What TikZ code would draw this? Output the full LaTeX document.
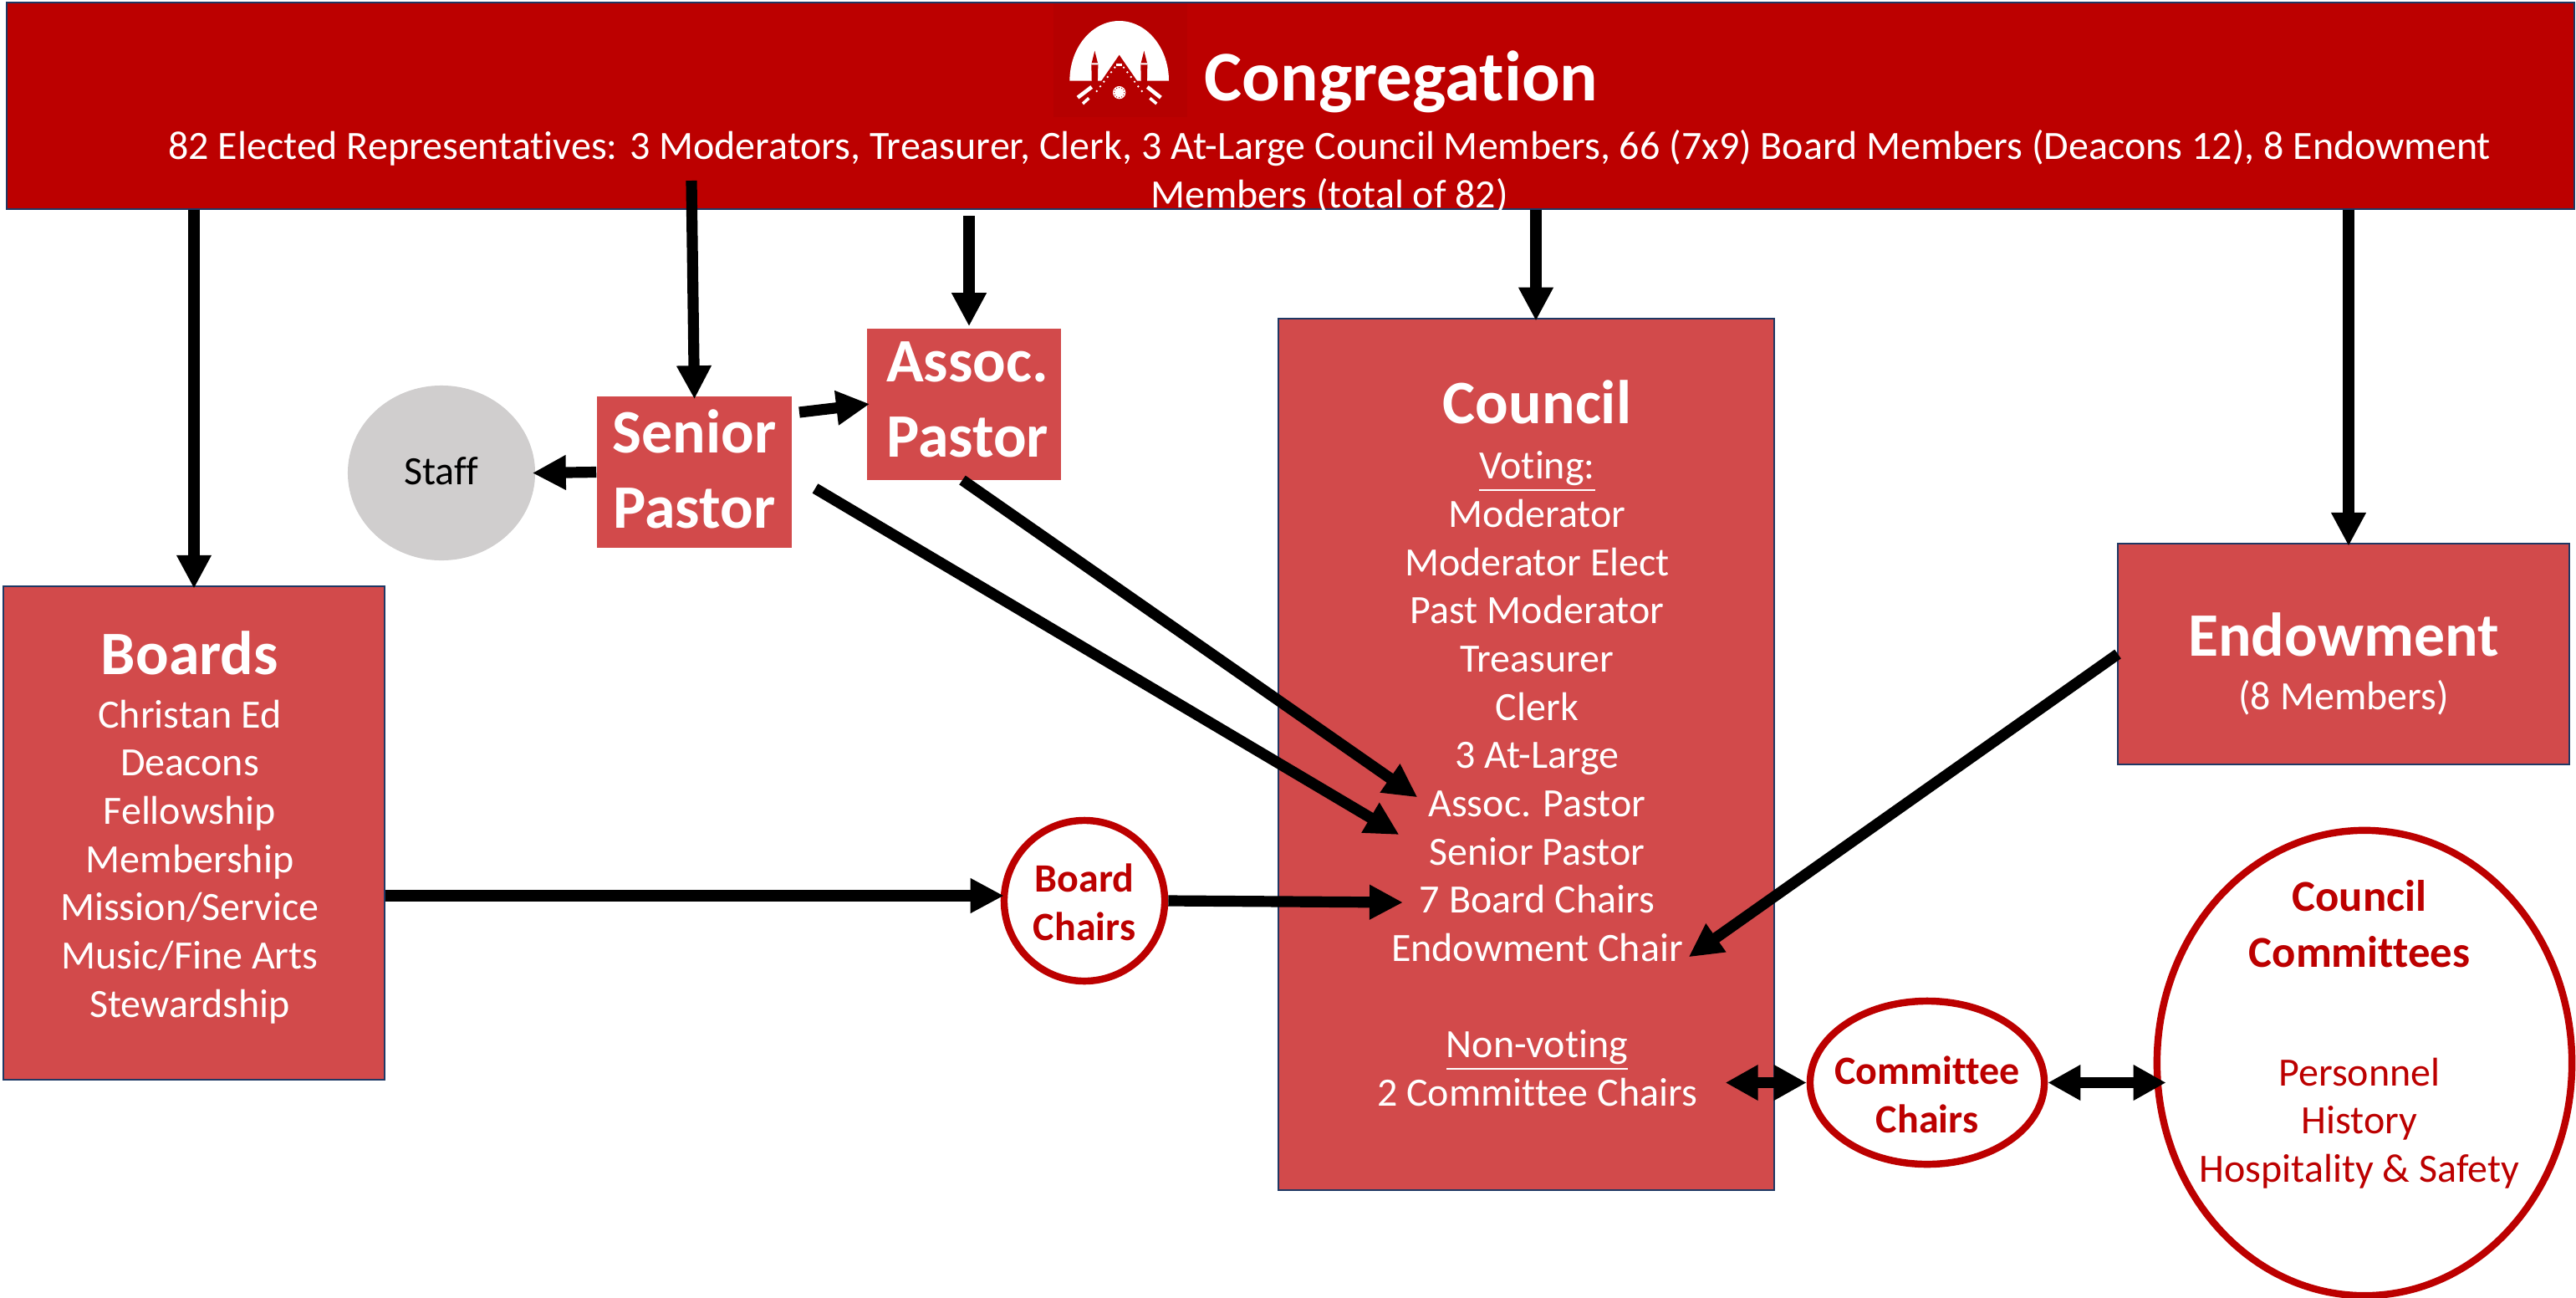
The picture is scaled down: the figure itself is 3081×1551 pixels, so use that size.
\documentclass[tikz,border=0pt]{standalone}
\usepackage{fontspec}
\setmainfont[Ligatures=CommonOff]{Carlito}
\usetikzlibrary{arrows.meta,shapes.geometric}
\definecolor{congred}{HTML}{BC0000}
\definecolor{logored}{HTML}{B50000}
\definecolor{boxred}{HTML}{D24A4B}
\definecolor{edgeblue}{HTML}{1F3864}
\definecolor{staffgrey}{HTML}{D0CECE}
\newcommand{\bodyfont}{\fontsize{13.65}{16.4}\selectfont}
\newcommand{\headfont}{\fontsize{21}{25.6}\selectfont\bfseries}
\tikzstyle{congbox} = [draw=edgeblue, fill=congred, line width=0.6pt, rectangle,
    inner sep=0, minimum width=30.69cm, minimum height=2.47cm]
\tikzstyle{redbox} = [draw=edgeblue, fill=boxred, line width=0.6pt, rectangle, inner sep=0]
\tikzstyle{boxtext} = [inner sep=0, text=white, font=\bodyfont, align=center]
\tikzstyle{pastorbox} = [fill=boxred, rectangle, inner sep=0]
\tikzstyle{pastortext} = [inner sep=0, text=white, font=\headfont, align=center]
\tikzstyle{ringnode} = [draw=congred, fill=white, line width=2.4pt, ellipse, inner sep=0]
\tikzstyle{ringtext} = [inner sep=0, text=congred, align=center]
\tikzstyle{bigarrow} = [line width=3.75pt, shorten >=-0.04cm, -{Triangle[length=4mm,width=3.9mm]}]
\tikzstyle{bothways} = [line width=3.75pt,
    {Triangle[length=3.9mm,width=4mm]}-{Triangle[length=3.9mm,width=4mm]}]
\begin{document}
\begin{tikzpicture}[x=0.01cm,y=-0.01cm]
    \useasboundingbox (0,0) rectangle (3081,1551);
    \node [congbox] (congregation) at (1543.5,126.5) {};
    \fill [logored] (1260,4) rectangle (1420,140);
    \begin{scope}[shift={(1240,0)},x=0.01cm/3,y=-0.01cm/3]
        \fill [white] (118,290) arc[start angle=180,end angle=360,x radius=178,y radius=215] -- cycle;
        \fill [logored] (296,197) -- (375,312) -- (375,340) -- (217,340) -- (217,312) -- cycle;
        \fill [logored] (208,182) -- (218,222) -- (220,232) -- (218,325) -- (198,325) -- (196,232) -- (198,222) -- cycle;
        \fill [logored] (385,182) -- (395,222) -- (397,232) -- (395,325) -- (375,325) -- (373,232) -- (375,222) -- cycle;
        \fill [white] (196,226) rectangle (220,232) (373,226) rectangle (397,232);
        \foreach \t in {1,...,6} {
            \fill [white] (296-\t*13-3,225+\t*17) circle[radius=4];
            \fill [white] (296+\t*13+3,225+\t*17) circle[radius=4];
        }
        \fill [white] (286,228) rectangle (306,238);
        \fill [white] (296,332) circle[radius=23];
        \foreach \a in {0,30,...,330} {
            \fill [logored] (296,332) ++(\a:18) circle[radius=2];
        }
        \draw [white, line width=1.3pt] (147,350) -- (197,312) (445,350) -- (397,312);
        \draw [white, line width=1pt] (165,372) -- (187,352) (406,352) -- (430,372);
    \end{scope}
    \node [text=white, font=\fontsize{24.2}{29}\selectfont\bfseries] (congtitle) at (1676,98) {Congregation};
    \node [boxtext] (congtext) at (1590,205) {
        82 Elected Representatives: 3 Moderators, Treasurer, Clerk, 3 At-Large Council Members, 66 (7x9) Board Members (Deacons 12), 8 Endowment\\
        Members (total of 82)
    };
    \node [redbox, minimum width=4.56cm, minimum height=5.9cm] (boards) at (232,996) {};
    \node [boxtext] (boardstext) at ([xshift=-0.05cm,yshift=0.07cm]boards.center) {
        {\headfont Boards}\\[1.8pt]
        Christan Ed\\
        Deacons\\
        Fellowship\\
        Membership\\
        Mission/Service\\
        Music/Fine Arts\\
        Stewardship
    };
    \node [redbox, minimum width=5.93cm, minimum height=10.42cm] (council) at (1825.5,902) {};
    \node [boxtext] (counciltext) at ([xshift=0.13cm,yshift=0.13cm]council.center) {
        {\headfont Council}\\[2.4pt]
        \underline{Voting:}\\
        Moderator\\
        Moderator Elect\\
        Past Moderator\\
        Treasurer\\
        Clerk\\
        3 At-Large\\
        Assoc. Pastor\\
        Senior Pastor\\
        7 Board Chairs\\
        Endowment Chair\\[16.4pt]
        \underline{Non-voting}\\
        2 Committee Chairs
    };
    \node [redbox, minimum width=5.4cm, minimum height=2.64cm] (endowment) at (2803,782) {};
    \node [boxtext] (endowmenttext) at ([yshift=-0.12cm]endowment.center) {
        {\headfont Endowment}\\[1.9pt]
        (8 Members)
    };
    \node [pastorbox, minimum width=2.33cm, minimum height=1.81cm] (senior) at (830.5,564.5) {};
    \node [pastortext] (seniortext) at ([yshift=0.04cm]senior.center) {Senior\\Pastor};
    \node [pastorbox, minimum width=2.32cm, minimum height=1.81cm] (assoc) at (1153,483.5) {};
    \node [pastortext] (assoctext) at ([xshift=0.04cm,yshift=0.06cm]assoc.center) {Assoc.\\Pastor};
    \node [fill=staffgrey, ellipse, inner sep=0, minimum width=2.24cm, minimum height=2.09cm,
        font=\bodyfont] (staff) at (528,565.5) {};
    \node [inner sep=0, font=\bodyfont] (stafftext) at ([yshift=0.02cm]staff.center) {Staff};
    \node [ringnode, minimum width=1.92cm, minimum height=1.92cm] (boardchairs) at (1297,1077) {};
    \node [ringtext, font=\fontsize{13.65}{16.4}\selectfont\bfseries] (boardchairstext) at ([yshift=-0.02cm]boardchairs.center) {Board\\Chairs};
    \node [ringnode, minimum width=2.8cm, minimum height=1.95cm] (committee) at (2305,1294.5) {};
    \node [ringtext, font=\fontsize{13.65}{16.4}\selectfont\bfseries] (committeetext) at ([yshift=-0.14cm]committee.center) {Committee\\Chairs};
    \node [ringnode, minimum width=4.96cm, minimum height=5.56cm] (councilcomm) at (2828,1271) {};
    \node [ringtext, font=\bodyfont] (councilcommtext) at ([xshift=-0.06cm,yshift=0.34cm]councilcomm.center) {
        {\fontsize{15}{18}\selectfont\bfseries Council}\\[2.5pt]
        {\fontsize{15}{18}\selectfont\bfseries Committees}\\[24pt]
        Personnel\\
        History\\
        Hospitality \& Safety
    };
    \coordinate (seniortop) at (827,216);
    \coordinate (seniorout) at (956,493);
    \coordinate (seniordiag) at (975,584);
    \coordinate (assocdiag) at (1151,574);
    \coordinate (endowdiag) at (2533,782);
    \coordinate (seniortip) at (1670,996);
    \coordinate (assoctip) at (1692,951);
    \coordinate (endowtip) at (2023,1142);
    \coordinate (chairtip) at (1674,1079);
    \draw [bigarrow] (congregation.south -| boards.north) -- (boards.north);
    \draw [bigarrow] (seniortop) -- (senior.north);
    \draw [bigarrow] ([xshift=0.06cm,yshift=-0.07cm]congregation.south -| assoc.north) -- ([xshift=0.06cm,yshift=0.06cm]assoc.north);
    \draw [bigarrow] ([xshift=0.115cm]congregation.south -| council.north) -- ([xshift=0.115cm]council.north);
    \draw [bigarrow] ([xshift=0.06cm]congregation.south -| endowment.north) -- ([xshift=0.06cm]endowment.north);
    \draw [bigarrow] (senior.west) -- (staff.east);
    \draw [bigarrow] (seniorout) -- (assoc.west);
    \draw [bigarrow] (seniordiag) -- (seniortip);
    \draw [bigarrow] (assocdiag) -- (assoctip);
    \draw [bigarrow] (endowdiag) -- (endowtip);
    \draw [bigarrow] ([yshift=0.06cm]boards.east |- boardchairs.west) -- ([yshift=0.06cm]boardchairs.west);
    \draw [bigarrow] (boardchairs.east) -- (chairtip);
    \draw [bothways] (committee.west) -- ([xshift=-0.97cm]committee.west);
    \draw [bothways] (committee.east) -- ([xshift=0.15cm]councilcomm.west |- committee.east);
\end{tikzpicture}
\end{document}
